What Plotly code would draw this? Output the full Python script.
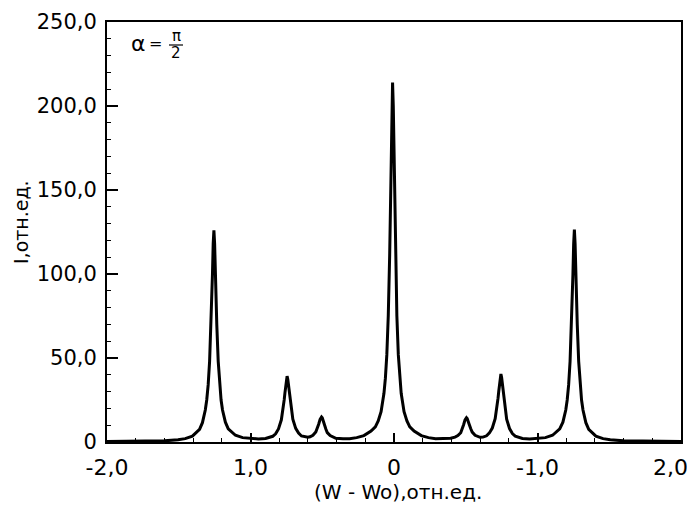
import plotly.graph_objects as go

# Spectrum (x: (W - Wo) in rel. units, y: I in rel. units)
w_shift = [
    -2.0, -1.8, -1.6, -1.505, -1.455, -1.405, -1.355, -1.335, -1.315, -1.305,
    -1.295, -1.285, -1.275, -1.27, -1.265, -1.26, -1.255, -1.25, -1.245, -1.24,
    -1.235, -1.225, -1.215, -1.205, -1.195, -1.175, -1.155, -1.105, -1.055, -1.0,
    -0.945, -0.895, -0.845, -0.825, -0.805, -0.785, -0.775, -0.765, -0.76, -0.755,
    -0.75, -0.745, -0.74, -0.735, -0.73, -0.725, -0.715, -0.705, -0.685, -0.665,
    -0.645, -0.62, -0.6, -0.585, -0.565, -0.545, -0.535, -0.525, -0.515, -0.51,
    -0.505, -0.5, -0.495, -0.485, -0.475, -0.465, -0.445, -0.425, -0.405, -0.355,
    -0.31, -0.26, -0.21, -0.16, -0.13, -0.11, -0.09, -0.07, -0.06, -0.05,
    -0.04, -0.03, -0.025, -0.02, -0.015, -0.01, -0.005, 0.0, 0.005, 0.01,
    0.02, 0.03, 0.04, 0.05, 0.07, 0.09, 0.11, 0.14, 0.19, 0.24,
    0.29, 0.345, 0.395, 0.425, 0.445, 0.465, 0.475, 0.485, 0.495, 0.5,
    0.505, 0.51, 0.515, 0.525, 0.535, 0.545, 0.565, 0.585, 0.6, 0.62,
    0.645, 0.665, 0.685, 0.705, 0.715, 0.725, 0.73, 0.735, 0.74, 0.745,
    0.75, 0.755, 0.76, 0.765, 0.775, 0.785, 0.805, 0.825, 0.845, 0.895,
    0.945, 1.0, 1.055, 1.105, 1.155, 1.177, 1.197, 1.207, 1.217, 1.227,
    1.237, 1.242, 1.247, 1.252, 1.257, 1.262, 1.267, 1.272, 1.277, 1.287,
    1.297, 1.307, 1.317, 1.337, 1.357, 1.407, 1.457, 1.507, 1.6, 1.8,
    2.0,
]
intensity = [
    0.3, 0.4, 0.7, 1.3, 2.0, 3.5, 7.5, 11.5, 19.0, 25.0,
    34.0, 48.0, 70.0, 84.0, 100.0, 118.0, 126.0, 118.0, 100.0, 84.0,
    70.0, 48.0, 34.0, 25.0, 19.0, 11.8, 7.8, 4.0, 2.6, 2.0,
    1.8, 2.1, 3.4, 4.9, 7.8, 13.2, 18.2, 25.2, 29.2, 33.2,
    37.2, 39.2, 37.2, 33.3, 29.3, 25.4, 18.5, 13.6, 8.1, 5.3,
    3.6, 2.9, 2.8, 3.1, 4.0, 6.0, 8.0, 10.6, 13.5, 14.4,
    14.9, 14.4, 13.4, 10.4, 7.7, 5.6, 3.8, 2.9, 2.2, 1.9,
    2.0, 2.6, 3.8, 6.5, 9.0, 12.5, 18.0, 29.0, 38.0, 52.0,
    75.0, 112.0, 140.0, 170.0, 200.0, 214.0, 200.0, 170.0, 140.0, 112.0,
    75.0, 52.0, 38.0, 29.0, 18.0, 12.5, 9.0, 6.5, 3.8, 2.6,
    2.0, 1.9, 2.2, 2.9, 3.8, 5.5, 7.6, 10.3, 13.2, 14.0,
    14.5, 14.0, 13.1, 10.3, 7.9, 5.9, 4.0, 3.1, 2.8, 2.9,
    3.7, 5.4, 8.3, 13.9, 18.9, 26.1, 30.2, 34.4, 38.4, 40.5,
    38.4, 34.3, 30.1, 26.1, 18.7, 13.6, 8.0, 5.0, 3.5, 2.1,
    1.8, 2.0, 2.6, 4.0, 7.8, 11.8, 19.0, 25.0, 34.0, 48.0,
    70.0, 84.0, 100.0, 118.0, 126.5, 118.0, 100.0, 84.0, 70.0, 48.0,
    34.0, 25.0, 19.0, 11.5, 7.5, 3.5, 2.0, 1.3, 0.7, 0.4,
    0.3,
]
assert len(w_shift) == len(intensity)

x_tick_vals = [-2, -1, 0, 1, 2]
x_tick_text = ["-2,0", "1,0", "0", "-1,0", "2,0"]
y_tick_vals = [0, 50, 100, 150, 200, 250]
y_tick_text = ["0", "50,0", "100,0", "150,0", "200,0", "250,0"]

FONT = "DejaVu Sans"
OFF = 8  # page body margin offset of the figure div

fig = go.Figure()
fig.add_trace(go.Scatter(x=w_shift, y=intensity, mode="lines",
                         line=dict(color="black", width=3), hoverinfo="skip",
                         showlegend=False))

# last x tick label sits at the page edge: drawn as an annotation kept inside
shown_x_text = x_tick_text[:-1] + [""]

fig.update_layout(
    width=695 - OFF, height=511 - OFF,
    margin=dict(l=107 - OFF, r=14, t=22 - OFF, b=69, autoexpand=False),
    paper_bgcolor="white", plot_bgcolor="white",
    font=dict(family=FONT, color="black"),
    xaxis=dict(range=[-2, 2], tickvals=x_tick_vals, ticktext=shown_x_text,
               ticks="inside", ticklen=9, tickwidth=1.5, tickcolor="black",
               minor=dict(ticks="inside", dtick=0.2, tick0=0, ticklen=4,
                          tickwidth=1, tickcolor="black"),
               showline=True, linecolor="black", linewidth=2, mirror=True,
               showgrid=False, zeroline=False, automargin=False,
               ticklabeloverflow="allow",
               tickfont=dict(size=22, family=FONT), ticklabelstandoff=5),
    yaxis=dict(range=[0, 250], tickvals=y_tick_vals, ticktext=y_tick_text,
               ticks="inside", ticklen=11, tickwidth=1.5, tickcolor="black",
               minor=dict(ticks="inside", dtick=10, tick0=0, ticklen=4,
                          tickwidth=1, tickcolor="black"),
               showline=True, linecolor="black", linewidth=2, mirror=True,
               showgrid=False, zeroline=False, automargin=False,
               ticklabeloverflow="allow",
               tickfont=dict(size=21, family=FONT), ticklabelstandoff=4),
)

def px(xp):
    return (xp - 107) / 574

def py(yp):
    return (442 - yp) / 420

anns = [
    dict(text="I,отн.ед.", x=px(21), y=py(222), textangle=-90, font=dict(size=19),
         xanchor="center"),
    dict(text="(W - Wo),отн.ед.", x=px(398), y=py(492), font=dict(size=20),
         xanchor="center"),
    dict(text=x_tick_text[-1], x=px(690), y=py(467), font=dict(size=22),
         xanchor="right"),
    dict(text="α", x=px(138), y=py(43), font=dict(size=22), xanchor="center"),
    dict(text="=", x=px(155), y=py(43), font=dict(size=16), xanchor="center"),
    dict(text="π", x=px(176), y=py(36), font=dict(size=15), xanchor="center"),
    dict(text="2", x=px(176), y=py(53), font=dict(size=15), xanchor="center"),
]
for a in anns:
    fig.add_annotation(xref="paper", yref="paper", showarrow=False,
                       yanchor="middle", **a)

fig.add_shape(type="line", xref="paper", yref="paper",
              x0=px(169), x1=px(183), y0=py(45), y1=py(45),
              line=dict(color="black", width=1.2))

fig.write_html("out.html")
